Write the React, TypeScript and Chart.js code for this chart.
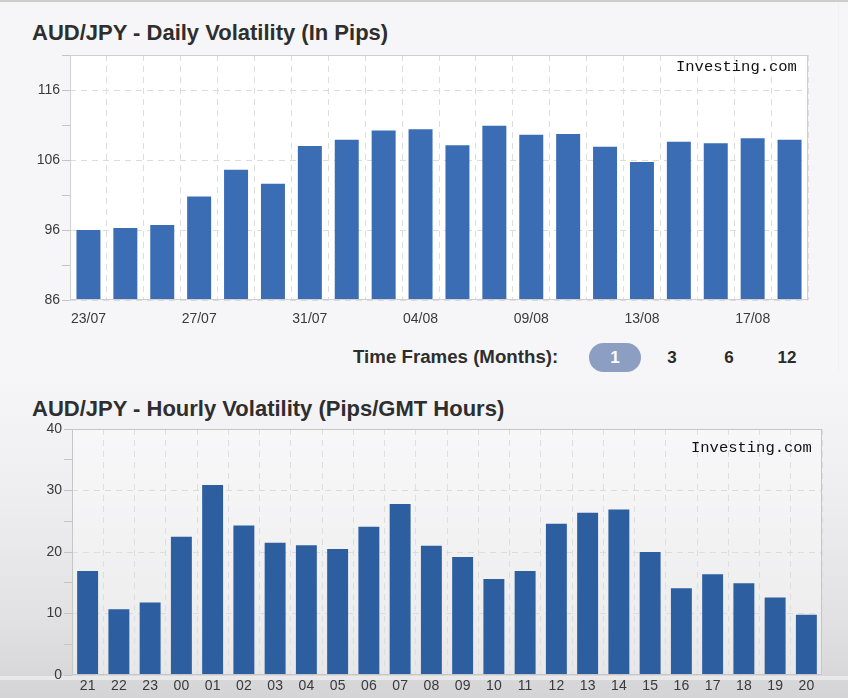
import React, { useEffect, useRef } from "react";
import { Chart, registerables } from "chart.js";

Chart.register(...registerables);

const dailyLabels = [
  "23/07", "24/07", "25/07", "27/07", "28/07", "30/07", "31/07", "01/08", "02/08", "04/08",
  "06/08", "07/08", "09/08", "10/08", "11/08", "13/08", "14/08", "16/08", "17/08", "18/08",
];
const dailyValues = [
  96.0, 96.3, 96.7, 100.8, 104.6, 102.6, 108.0, 108.9, 110.2, 110.4,
  108.1, 110.9, 109.6, 109.7, 107.9, 105.7, 108.6, 108.4, 109.1, 108.9,
];
const dailyTickLabels = ["86", "96", "106", "116"];

const hourLabels = [
  "21", "22", "23", "00", "01", "02", "03", "04", "05", "06", "07", "08",
  "09", "10", "11", "12", "13", "14", "15", "16", "17", "18", "19", "20",
];
const hourValues = [
  16.9, 10.7, 11.8, 22.5, 30.9, 24.3, 21.5, 21.1, 20.5, 24.1, 27.8, 21.0,
  19.2, 15.6, 16.9, 24.6, 26.4, 26.9, 20.0, 14.1, 16.4, 14.9, 12.6, 9.8,
];
const hourTickLabels = ["0", "10", "20", "30", "40"];

const timeFrames = ["1", "3", "6", "12"];

const FONT = "'Liberation Sans', Arial, sans-serif";
const MONO = "'Liberation Mono', 'DejaVu Sans Mono', monospace";

function framePlugin(bg: string, border: string) {
  return {
    id: "frame",
    beforeDraw(chart: any) {
      const { ctx, chartArea: a } = chart;
      ctx.save();
      ctx.fillStyle = bg;
      ctx.fillRect(a.left, a.top, a.right - a.left, a.bottom - a.top);
      ctx.restore();
    },
    afterDraw(chart: any) {
      const { ctx, chartArea: a } = chart;
      ctx.save();
      ctx.strokeStyle = border;
      ctx.lineWidth = 1;
      ctx.strokeRect(Math.round(a.left) + 0.5, Math.round(a.top) + 0.5, Math.round(a.right - a.left) - 1, Math.round(a.bottom - a.top) - 1);
      ctx.restore();
    },
  };
}

function makeConfig(opts: {
  labels: string[];
  values: number[];
  color: string;
  min: number;
  max: number;
  majorLabels: string[];
  labelEvery: number;
  padding: any;
  yWidth: number;
  xHeight: number;
  bg: string;
  border: string;
  barPct: number;
  xFontSize: number;
  xPad: number;
}): any {
  const isMajor = (v: number) => opts.majorLabels.includes(String(v));
  return {
    type: "bar",
    data: {
      labels: opts.labels,
      datasets: [
        {
          data: opts.values,
          backgroundColor: opts.color,
          borderWidth: 0,
          categoryPercentage: 1,
          barPercentage: opts.barPct,
        },
      ],
    },
    options: {
      animation: false,
      responsive: false,
      maintainAspectRatio: false,
      layout: { padding: opts.padding },
      plugins: { legend: { display: false }, tooltip: { enabled: false } },
      scales: {
        x: {
          afterFit: (s: any) => {
            s.height = opts.xHeight;
          },
          grid: {
            color: "#dedede",
            lineWidth: 1,
            drawTicks: false,
            offset: true,
          },
          border: { display: false, dash: [6, 5] },
          ticks: {
            autoSkip: false,
            maxRotation: 0,
            padding: opts.xPad,
            color: "#3a3a3a",
            font: { family: FONT, size: opts.xFontSize },
            callback: (_v: any, i: number) => (i % opts.labelEvery === 0 ? opts.labels[i] : ""),
          },
        },
        y: {
          min: opts.min,
          max: opts.max,
          afterFit: (s: any) => {
            s.width = opts.yWidth;
          },
          grid: {
            color: (c: any) => (c.tick && isMajor(c.tick.value) ? "#dcdcdc" : "rgba(0,0,0,0)"),
            tickColor: "#c4c4c4",
            tickLength: 8,
            drawTicks: true,
          },
          border: { display: false, dash: [6, 5] },
          ticks: {
            stepSize: 5,
            padding: 2,
            color: "#3a3a3a",
            font: { family: FONT, size: 14 },
            callback: (v: any) => (isMajor(v) ? String(v) : ""),
          },
        },
      },
    },
    plugins: [framePlugin(opts.bg, opts.border)],
  };
}

function BarChart(props: { config: any; width: number; height: number; style: React.CSSProperties }) {
  const ref = useRef<HTMLCanvasElement>(null);
  useEffect(() => {
    if (!ref.current) return;
    const chart = new Chart(ref.current, props.config);
    return () => chart.destroy();
  }, []);
  return (
    <canvas
      ref={ref}
      width={props.width}
      height={props.height}
      style={{ position: "absolute", width: props.width, height: props.height, ...props.style }}
    />
  );
}

export default function App() {
  const topConfig = makeConfig({
    labels: dailyLabels,
    values: dailyValues,
    color: "#3a6db4",
    min: 86,
    max: 121,
    majorLabels: dailyTickLabels,
    labelEvery: 3,
    padding: { left: 0, top: 55, right: 40, bottom: 10 },
    yWidth: 70,
    xHeight: 30,
    bg: "#ffffff",
    border: "#cfcfcf",
    barPct: 0.65,
    xFontSize: 14,
    xPad: 11,
  });
  const bottomConfig = makeConfig({
    labels: hourLabels,
    values: hourValues,
    color: "#2d5e9f",
    min: 0,
    max: 40,
    majorLabels: hourTickLabels,
    labelEvery: 1,
    padding: { left: 0, top: 49, right: 26, bottom: 0 },
    yWidth: 72,
    xHeight: 23,
    bg: "rgba(255,255,255,0.4)",
    border: "#c6c6c6",
    barPct: 0.67,
    xFontSize: 14,
    xPad: 3,
  });

  const textBase: React.CSSProperties = {
    position: "absolute",
    fontFamily: FONT,
    whiteSpace: "nowrap",
    margin: 0,
    lineHeight: 1,
  };

  return (
    <div
      style={{
        position: "absolute",
        left: 0,
        top: 0,
        width: 848,
        height: 698,
        overflow: "hidden",
        background: "#f6f6f8",
      }}
    >
      <div style={{ position: "absolute", left: 0, top: 0, width: 848, height: 2, background: "#c9d0c9" }} />
      <div style={{ position: "absolute", left: 838, top: 2, width: 1, height: 370, background: "#f0f0f2" }} />
      <div
        style={{
          position: "absolute",
          left: 0,
          top: 370,
          width: 848,
          height: 328,
          background: "linear-gradient(to bottom, #f6f6f8 0%, #efeff1 35%, #e2e2e4 75%, #d4d4d6 100%)",
        }}
      />
      <div style={{ position: "absolute", left: 0, top: 676, width: 848, height: 4, background: "rgba(255,255,255,0.45)" }} />

      <div style={{ ...textBase, left: 32, top: 22, fontSize: 22, fontWeight: "bold", color: "#2e2e2e" }}>
        AUD/JPY - Daily Volatility (In Pips)
      </div>
      <BarChart config={topConfig} width={848} height={340} style={{ left: 0, top: 0 }} />
      <div style={{ ...textBase, left: 676, top: 60, fontSize: 15.5, fontFamily: MONO, color: "#111" }}>
        Investing.com
      </div>

      <div style={{ ...textBase, left: 353, top: 348, fontSize: 18.7, fontWeight: "bold", color: "#2e2e2e" }}>
        Time Frames (Months):
      </div>
      {timeFrames.map((t, i) => {
        const centers = [615, 672, 729, 787];
        const active = i === 0;
        return (
          <div
            key={t}
            style={{
              position: "absolute",
              left: centers[i] - 26,
              top: 343,
              width: 52,
              height: 29,
              borderRadius: 15,
              background: active ? "#8c9ec1" : "transparent",
              color: active ? "#ffffff" : "#2a2a2a",
              fontFamily: FONT,
              fontWeight: "bold",
              fontSize: 17,
              display: "flex",
              alignItems: "center",
              justifyContent: "center",
            }}
          >
            {t}
          </div>
        );
      })}

      <div style={{ ...textBase, left: 32, top: 398, fontSize: 22, fontWeight: "bold", color: "#2e2e2e" }}>
        AUD/JPY - Hourly Volatility (Pips/GMT Hours)
      </div>
      <BarChart config={bottomConfig} width={848} height={318} style={{ left: 0, top: 380 }} />
      <div style={{ ...textBase, left: 691, top: 441, fontSize: 15.5, fontFamily: MONO, color: "#111" }}>
        Investing.com
      </div>
    </div>
  );
}
